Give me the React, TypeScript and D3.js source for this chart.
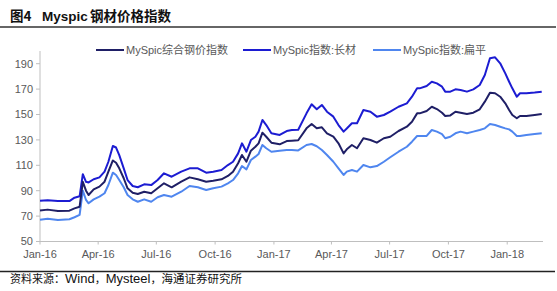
import React from "react";
import * as d3 from "d3";

const dates = ["2016-01-01","2016-01-13","2016-01-29","2016-02-16","2016-02-24","2016-03-03","2016-03-08","2016-03-13","2016-03-17","2016-03-25","2016-04-03","2016-04-11","2016-04-17","2016-04-24","2016-04-29","2016-05-04","2016-05-11","2016-05-17","2016-05-25","2016-06-02","2016-06-12","2016-06-23","2016-07-03","2016-07-13","2016-07-25","2016-08-09","2016-08-22","2016-09-04","2016-09-17","2016-09-28","2016-10-11","2016-10-21","2016-10-29","2016-11-06","2016-11-12","2016-11-19","2016-11-26","2016-12-03","2016-12-08","2016-12-14","2016-12-20","2016-12-28","2017-01-10","2017-01-21","2017-01-29","2017-02-08","2017-02-21","2017-03-01","2017-03-09","2017-03-17","2017-03-25","2017-04-04","2017-04-12","2017-04-20","2017-04-25","2017-05-03","2017-05-11","2017-05-21","2017-06-01","2017-06-11","2017-06-22","2017-07-02","2017-07-15","2017-07-28","2017-08-05","2017-08-13","2017-08-17","2017-08-28","2017-09-05","2017-09-13","2017-09-21","2017-09-26","2017-10-04","2017-10-12","2017-10-20","2017-10-30","2017-11-09","2017-11-19","2017-11-27","2017-12-05","2017-12-13","2017-12-21","2017-12-29","2018-01-04","2018-01-09","2018-01-16","2018-01-21","2018-01-31","2018-02-13","2018-02-24"];

const composite = [74.5,75.1,74,74.3,76.1,77.4,97,90,86.6,91.1,93.2,97.1,105,113.8,112,107.6,99.8,91.9,88.4,87.4,89.2,88,91.9,95.8,92.7,97.1,100.5,99,97.1,97.8,99,101.6,105,111.6,118.1,112.8,121.5,124.6,127.3,135.7,132.5,127.8,126.5,129.1,129.4,129.7,139.1,142.5,139.1,139.9,135.2,132.5,127.3,119.4,122.6,126,123.4,131.3,129.9,127.8,131.3,132.5,137,140.4,144.3,150.9,150.9,152.8,156.1,154.3,151.4,148.8,149.3,152.2,151.4,150.4,151.4,154.1,160.1,167.2,166.7,164,158.8,153.5,149.6,147,148.8,148.8,149.6,150.4];

const longProducts = [82,82.5,81.8,81.8,84.5,85.6,103,97,96.5,99,100.5,105,112.8,125.2,124,118,107.6,98.4,93.7,92.7,95,94.4,98.4,103.7,101,105,107.6,107.6,104.2,105,106.3,110.2,112.8,119.4,127.3,120.7,129.9,132.5,136.5,145.7,141.7,135.2,133.9,137,137.8,138,150.9,158,154.1,157.5,152.2,148.3,141.7,136.5,139,143.1,143.1,153.5,152.2,148.3,149.6,152.2,156.1,158.8,164,170.6,170.6,172.4,175.8,174.5,171.9,168,168,169.8,169.3,168,169.8,173.2,181.1,194.3,195,190.3,182.4,175.8,170.6,164,166.7,166.7,167.3,168];

const flatProducts = [67.2,68,66.9,67.5,69.1,70.9,90,82.7,80.1,83.2,85.3,88,94.5,104.2,102.4,98.4,92.7,86.6,83.2,81.3,83.2,81.3,84.8,86.6,85.3,89.2,93.7,92.7,90.6,91.9,93.2,95.8,98.4,103.7,109.4,106.8,114.2,116.8,118.9,126,123.4,120.7,121.5,122,122,121.7,126,126.8,125,122,118.1,112.8,107.6,102.4,105,106.3,105,110.2,108.4,109.4,112.8,116.3,120.7,124.6,128.6,133.1,133.1,133.1,137.8,136.5,134.6,131.3,132.5,135.2,136.5,135.2,136.5,137.8,139.1,142.5,141.7,140.4,139.1,138.3,136.5,133.1,133.1,133.9,134.6,135.2];

const seriesNames = ["MySpic综合钢价指数", "MySpic指数:长材", "MySpic指数:扁平"];
const seriesColors = ["#1f1f66", "#1c1cd2", "#4f86ef"];
const yTicks = [50, 70, 90, 110, 130, 150, 170, 190];

const W = 557;
const H = 291;
const FONT = "'Liberation Sans', Arial, 'Noto Sans CJK SC', sans-serif";
const CJK = "'Noto Sans CJK SC', sans-serif";
const LATIN = "'Liberation Sans', Arial, sans-serif";

export default function App() {
  const parse = d3.timeParse("%Y-%m-%d");
  const dts = dates.map((d) => parse(d) as Date);
  const x = d3
    .scaleTime()
    .domain([new Date(2016, 0, 1), new Date(2018, 1, 26)])
    .range([40, 543]);
  const y = d3.scaleLinear().domain([50, 200]).range([241.5, 51]);
  const xTicks = d3.timeMonth.range(new Date(2016, 0, 1), new Date(2018, 1, 2), 3);
  const fmt = d3.timeFormat("%b-%y");
  const allSeries = [composite, longProducts, flatProducts];
  const line = (vals: number[]) =>
    d3
      .line<number>()
      .x((_, i) => x(dts[i]))
      .y((v) => y(v))(vals) as string;

  const legendItems = [
    { x1: 96, x2: 124 },
    { x1: 243, x2: 271 },
    { x1: 373, x2: 401 },
  ];

  return (
    <svg
      width={W}
      height={H}
      style={{ position: "absolute", left: 0, top: 0, background: "#fff" }}
    >
      <rect x={0} y={0} width={W} height={H} fill="#fff" />
      <text y={21} fontWeight="bold" fill="#111">
        <tspan x={10} fontSize={13.5} fontFamily={CJK}>图4</tspan>
        <tspan x={42} fontSize={13.5} fontFamily={LATIN}>Myspic</tspan>
        <tspan x={90} fontSize={13.5} fontFamily={CJK}>钢材价格指数</tspan>
      </text>
      <line x1={0} x2={556} y1={27} y2={27} stroke="#333" strokeWidth={1.5} />

      {/* axes */}
      <line x1={40} x2={40} y1={y(200)} y2={y(50)} stroke="#bfbfbf" strokeWidth={1} />
      <line x1={40} x2={543} y1={y(50)} y2={y(50)} stroke="#bfbfbf" strokeWidth={1} />
      {yTicks.map((t) => (
        <g key={t}>
          <line x1={36} x2={40} y1={y(t)} y2={y(t)} stroke="#bfbfbf" />
          <text
            x={33}
            y={y(t)}
            dy="0.35em"
            textAnchor="end"
            fontSize={11}
            fontFamily={FONT}
            fill="#595959"
          >
            {t}
          </text>
        </g>
      ))}
      {xTicks.map((t, i) => (
        <g key={i}>
          <line x1={x(t)} x2={x(t)} y1={y(50)} y2={y(50) + 3} stroke="#bfbfbf" />
          <text
            x={x(t)}
            y={258}
            textAnchor="middle"
            fontSize={11}
            fontFamily={FONT}
            fill="#595959"
          >
            {fmt(t)}
          </text>
        </g>
      ))}

      {/* lines */}
      {[2, 1, 0].map((si) => (
        <path
          key={si}
          d={line(allSeries[si])}
          fill="none"
          stroke={seriesColors[si]}
          strokeWidth={2}
          strokeLinejoin="round"
        />
      ))}

      {/* legend */}
      {seriesNames.map((n, i) => (
        <g key={n}>
          <line
            x1={legendItems[i].x1}
            x2={legendItems[i].x2}
            y1={50}
            y2={50}
            stroke={seriesColors[i]}
            strokeWidth={2}
          />
          <text
            x={legendItems[i].x2 + 2}
            y={50}
            dy="0.35em"
            fontSize={11}
            fontFamily={FONT}
            fill="#595959"
          >
            {n}
          </text>
        </g>
      ))}

      <line x1={0} x2={555} y1={271.5} y2={271.5} stroke="#222" strokeWidth={1.5} />
      <text x={10} y={283} fill="#111">
        <tspan fontSize={11} fontFamily={CJK}>资料来源：</tspan>
        <tspan fontSize={13} fontFamily={LATIN}>Wind</tspan>
        <tspan fontSize={11} fontFamily={CJK}>，</tspan>
        <tspan fontSize={13} fontFamily={LATIN}>Mysteel</tspan>
        <tspan fontSize={11} fontFamily={CJK}>，</tspan>
        <tspan fontSize={11.5} fontFamily={CJK}>海通证券研究所</tspan>
      </text>
    </svg>
  );
}
